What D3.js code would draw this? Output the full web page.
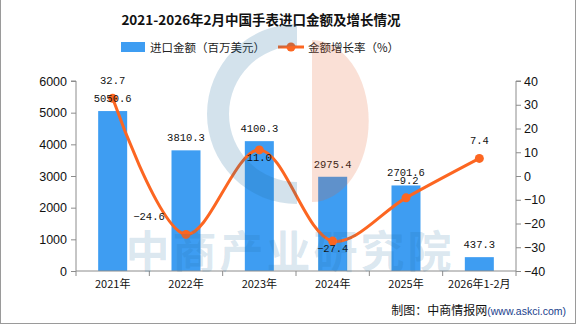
<!DOCTYPE html>
<html>
<head>
<meta charset="utf-8">
<script src="https://cdn.jsdelivr.net/npm/d3@7/dist/d3.min.js"></script>
<style>
  html, body { margin: 0; padding: 0; background: #fff; }
  svg { display: block; }
</style>
</head>
<body>
<svg id="chart" width="576" height="325"></svg>
<script>
// Watch imports into China: value (million USD) and year-on-year growth (%)
const categories = ["2021年", "2022年", "2023年", "2024年", "2025年", "2026年1-2月"];
const importValue = [5050.6, 3810.3, 4100.3, 2975.4, 2701.6, 437.3];
const growthRate = [32.7, -24.6, 11.0, -27.4, -9.2, 7.4];
const leftTicks = [0, 1000, 2000, 3000, 4000, 5000, 6000];
const rightTicks = [-40, -30, -20, -10, 0, 10, 20, 30, 40];
// where each growth label sits relative to its point
const growthLabelSide = ["top", "topleft", "bottom", "bottom", "top", "top"];

const svg = d3.select("#chart");
const W = 576, H = 325;
const m = { left: 76, right: 60, top: 81, bottom: 54 };
const plotR = W - m.right, plotB = H - m.bottom;

const numFont = "'Liberation Mono', 'DejaVu Sans Mono', monospace";
const cjkFont = "'Noto Sans CJK SC', 'Noto Sans', sans-serif";
const axisColor = "#8c8c8c";
const barColor = "#3e9df2";
const lineColor = "#fc6621";

const x = d3.scaleBand().domain(categories).range([m.left, plotR]);
const yL = d3.scaleLinear().domain([0, 6000]).range([plotB, m.top]);
const yR = d3.scaleLinear().domain([-40, 40]).range([plotB, m.top]);
const cx = i => x(categories[i]) + x.bandwidth() / 2;

// frame
svg.append("rect").attr("x", 0.5).attr("y", -1).attr("width", W - 1).attr("height", H - 0.5)
  .attr("fill", "#fff").attr("stroke", "#9a9a9a");

// title
svg.append("text").attr("x", 261).attr("y", 25).attr("text-anchor", "middle")
  .attr("font-family", cjkFont).attr("font-weight", "bold").attr("font-size", 13.5)
  .attr("fill", "#111").text("2021-2026年2月中国手表进口金额及增长情况");

// legend
svg.append("rect").attr("x", 121).attr("y", 42).attr("width", 24).attr("height", 10).attr("fill", barColor);
svg.append("text").attr("x", 150).attr("y", 51.5).attr("font-family", cjkFont).attr("font-size", 11.5)
  .attr("fill", "#222").text("进口金额（百万美元）");
svg.append("line").attr("x1", 278).attr("x2", 304).attr("y1", 47).attr("y2", 47)
  .attr("stroke", lineColor).attr("stroke-width", 3);
svg.append("circle").attr("cx", 291).attr("cy", 47).attr("r", 4.5).attr("fill", lineColor);
svg.append("text").attr("x", 308).attr("y", 51.5).attr("font-family", cjkFont).attr("font-size", 11.5)
  .attr("fill", "#222").text("金额增长率（%）");

// bars
const barW = 29;
svg.append("g").selectAll("rect").data(importValue).join("rect")
  .attr("x", (d, i) => cx(i) - barW / 2)
  .attr("y", d => yL(d)).attr("width", barW).attr("height", d => plotB - yL(d))
  .attr("fill", barColor);

// axes
const axL = svg.append("g").attr("transform", `translate(${m.left},0)`)
  .call(d3.axisLeft(yL).tickValues(leftTicks).tickSize(5).tickPadding(4).tickFormat(d3.format("d")));
const axR = svg.append("g").attr("transform", `translate(${plotR},0)`)
  .call(d3.axisRight(yR).tickValues(rightTicks).tickSize(5).tickPadding(3)
    .tickFormat(d => d < 0 ? "−" + Math.abs(d) : d));
const axB = svg.append("g").attr("transform", `translate(0,${plotB})`)
  .call(d3.axisBottom(x).tickSize(0).tickPadding(9));
// bottom ticks on the band boundaries
svg.append("g").selectAll("line").data(d3.range(categories.length + 1)).join("line")
  .attr("x1", i => m.left + i * x.step()).attr("x2", i => m.left + i * x.step())
  .attr("y1", plotB).attr("y2", plotB + 5).attr("stroke", axisColor);

[axL, axR, axB].forEach(a => {
  a.selectAll(".domain").attr("stroke", axisColor);
  a.selectAll(".tick line").attr("stroke", axisColor);
  a.selectAll("text").attr("fill", "#111");
});
axL.selectAll("text").attr("font-family", "'Liberation Sans', sans-serif").attr("font-size", 12.5);
axR.selectAll("text").attr("font-family", "'Liberation Sans', sans-serif").attr("font-size", 12.5);
axB.selectAll("text").attr("font-family", cjkFont).attr("font-size", 11);
axL.select(".domain").attr("d", `M-5,${m.top}H0V${plotB}`);
axR.select(".domain").attr("d", `M5,${m.top}H0V${plotB}`);
axB.select(".domain").attr("d", `M${m.left},0H${plotR}`);

// growth line
const pts = growthRate.map((v, i) => [cx(i), yR(v)]);
svg.append("path").attr("d", d3.line().curve(d3.curveCatmullRom.alpha(0.5))(pts))
  .attr("fill", "none").attr("stroke", lineColor).attr("stroke-width", 3);
svg.append("g").selectAll("circle").data(pts).join("circle")
  .attr("cx", d => d[0]).attr("cy", d => d[1]).attr("r", 4.5).attr("fill", lineColor);

// bar value labels
svg.append("g").selectAll("text").data(importValue).join("text")
  .attr("x", (d, i) => cx(i))
  .attr("y", d => yL(d) - 9)
  .attr("text-anchor", "middle").attr("font-family", numFont).attr("font-size", 10.5)
  .attr("fill", "#111").text(d => d.toFixed(1));

// growth value labels
svg.append("g").selectAll("text").data(growthRate).join("text")
  .attr("x", (d, i) => pts[i][0] + (growthLabelSide[i] === "topleft" ? -37 : 0))
  .attr("y", (d, i) => growthLabelSide[i] === "bottom" ? pts[i][1] + 11 : pts[i][1] - 14)
  .attr("text-anchor", "middle").attr("font-family", numFont).attr("font-size", 10.5)
  .attr("fill", "#111").text(d => d < 0 ? "−" + Math.abs(d).toFixed(1) : d.toFixed(1));

// watermark
const wm = svg.append("g").attr("pointer-events", "none");
const arc = d3.arc();
wm.append("path").attr("transform", "translate(297,114)")
  .attr("d", arc({ innerRadius: 68, outerRadius: 90, startAngle: Math.PI, endAngle: 2 * Math.PI }))
  .attr("fill", "rgb(35,110,160)").attr("fill-opacity", 0.2);
wm.append("path")
  .attr("d", "M312,40 A56,80 0 0 1 312,202 Z")
  .attr("fill", "rgb(230,100,50)").attr("fill-opacity", 0.2);
wm.append("text").attr("x", 290).attr("y", 268).attr("text-anchor", "middle")
  .attr("font-family", cjkFont).attr("font-weight", "bold").attr("font-size", 44)
  .attr("letter-spacing", 3)
  .attr("fill", "rgb(35,110,160)").attr("fill-opacity", 0.17).text("中商产业研究院");

// credit line
const credit = svg.append("text").attr("x", 566).attr("y", 315).attr("text-anchor", "end")
  .attr("font-family", cjkFont).attr("font-size", 12);
credit.append("tspan").attr("fill", "#111").text("制图：中商情报网");
credit.append("tspan").attr("fill", "#1a3e8c").attr("font-family", "'Liberation Sans', sans-serif")
  .attr("font-size", 10.5).text("(www.askci.com)");
</script>
</body>
</html>
